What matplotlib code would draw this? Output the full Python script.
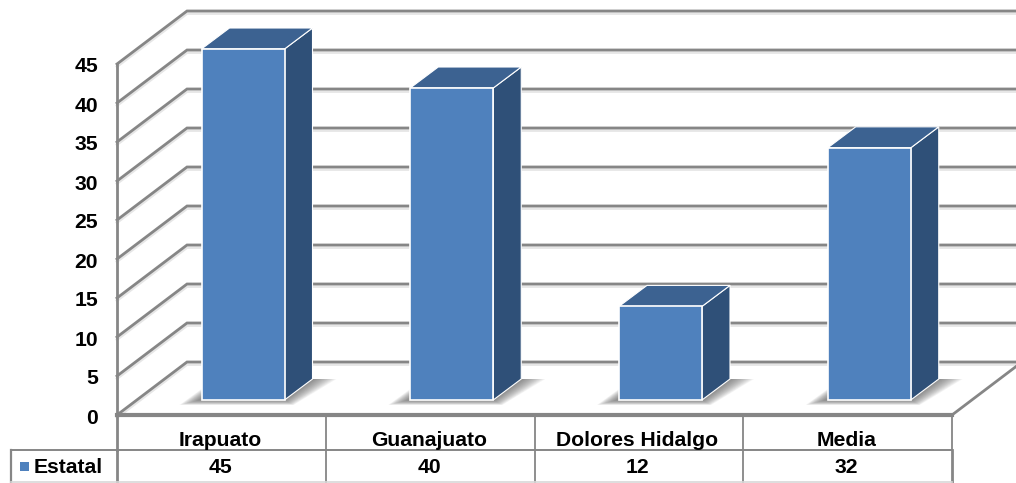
import matplotlib
matplotlib.use('Agg')
import matplotlib.pyplot as plt
from matplotlib.patches import Polygon, Rectangle

plt.rcParams['font.family'] = ['Liberation Sans', 'DejaVu Sans']

categories = ['Irapuato', 'Guanajuato', 'Dolores Hidalgo', 'Media']
estatal = [45, 40, 12, 32.33]
y_ticks = [0, 5, 10, 15, 20, 25, 30, 35, 40, 45]
series_name = 'Estatal'

W, H = 1016, 483
cat_px = 208.75
val_px = 7.8
x0_px, y0_px = 117, 415

FRONT = '#4F81BD'
SIDE = '#2F5078'
TOP = '#3C6291'
GRID = '#868686'
TXT = '#000000'
FS = 15.2

# depth of the floor and of the bars, in axis units
floor_dx, floor_dy = 70 / cat_px, 53 / val_px
bar_dx, bar_dy = 28 / cat_px, 21 / val_px
bar_w = 83 / cat_px
bar_off = 84.5 / cat_px
bar_base = 15 / val_px


def px_x(p):
    return p / cat_px


def px_y(p):
    return p / val_px


fig = plt.figure(figsize=(W / 100, H / 100), dpi=100)
ax = fig.add_axes([0, 0, 1, 1])
ax.set_xlim(-x0_px / cat_px, (W - x0_px) / cat_px)
ax.set_ylim(-(H - y0_px) / val_px, y0_px / val_px)
ax.axis('off')

x_right = len(categories)
x_edge = (W - x0_px) / cat_px

# grid on the wall, with its pale shadow
for v in y_ticks:
    xs = [0, floor_dx, x_edge]
    ys = [v, v + floor_dy, v + floor_dy]
    ax.plot(xs, [y - px_y(2.5) for y in ys], color='#e6e6e6', lw=2, zorder=1)
    ax.plot(xs, ys, color=GRID, lw=2, zorder=2, solid_joinstyle='miter')

# walls and floor edges
ax.plot([0, 0], [0, y_ticks[-1]], color=GRID, lw=2, zorder=3)
ax.plot([0, x_right], [0, 0], color=GRID, lw=3, zorder=3)
ax.plot([x_right, x_edge], [0, (x_edge - x_right) / floor_dx * floor_dy], color=GRID, lw=2, zorder=3)

# bars
for i, val in enumerate(estatal):
    left = i + bar_off
    right = left + bar_w
    top = bar_base + val
    # soft shadow on the floor, stacked layers
    for k in range(14):
        t = k / 13
        low = bar_base - px_y(5 - t * 4.5)
        ax.add_patch(Polygon([
            (left, bar_base + px_y(11 - t * 9)),
            (left - px_x(22 - t * 18), low),
            (right + px_x(9 - t * 8), low),
            (right + bar_dx + px_x(24 - t * 22), bar_base + bar_dy),
            (right + bar_dx, bar_base + bar_dy),
        ], closed=True, fc='#555555', ec='none', alpha=0.065, zorder=4))
    ax.bar(left, val, width=bar_w, bottom=bar_base, align='edge', color=FRONT,
           edgecolor='white', linewidth=1.2, zorder=6)
    ax.add_patch(Polygon([(right, bar_base), (right + bar_dx, bar_base + bar_dy),
                          (right + bar_dx, top + bar_dy), (right, top)],
                         closed=True, fc=SIDE, ec='white', lw=0.8, zorder=5))
    ax.add_patch(Polygon([(left, top), (left + bar_dx, top + bar_dy),
                          (right + bar_dx, top + bar_dy), (right, top)],
                         closed=True, fc=TOP, ec='white', lw=0.8, zorder=5))

# value axis labels
for v in y_ticks:
    ax.text(-px_x(19), v - px_y(3), str(v), ha='right', va='center',
            fontsize=FS, fontweight='bold', color=TXT, zorder=8)

# data table below the chart
row1 = -px_y(35)
row2 = -px_y(H - y0_px - 1)
leg_left = -px_x(106)
for i in range(len(categories) + 1):
    lw = 2 if i == 0 else 1.3
    ax.plot([i, i], [0, row1], color=GRID, lw=lw, zorder=3)
    ax.plot([i, i], [row1, row2], color=GRID, lw=2 if i in (0, len(categories)) else 1.3, zorder=3)
ax.plot([leg_left, leg_left], [row1, row2], color=GRID, lw=1.6, zorder=3)
ax.plot([leg_left, x_right], [row1, row1], color=GRID, lw=1.4, zorder=3)
ax.plot([leg_left, x_right], [row2, row2], color='#d8d8d8', lw=1.2, zorder=3)

for i, (name, val) in enumerate(zip(categories, estatal)):
    ax.text(i + 0.5 - px_x(1.5), row1 / 2 - px_y(8), name, ha='center', va='center',
            fontsize=FS, fontweight='bold', color=TXT, zorder=8)
    ax.text(i + 0.5 - px_x(1), (row1 + row2) / 2 - px_y(1.5), f'{val:.0f}', ha='center', va='center',
            fontsize=FS, fontweight='bold', color=TXT, zorder=8)

ax.add_patch(Rectangle((-px_x(97), -px_y(471 - y0_px)), px_x(9), px_y(9),
                       fc=FRONT, ec='none', zorder=8))
ax.text(-px_x(83), (row1 + row2) / 2 - px_y(1.5), series_name, ha='left', va='center',
        fontsize=FS, fontweight='bold', color=TXT, zorder=8)

fig.savefig('out.png', dpi=100)
